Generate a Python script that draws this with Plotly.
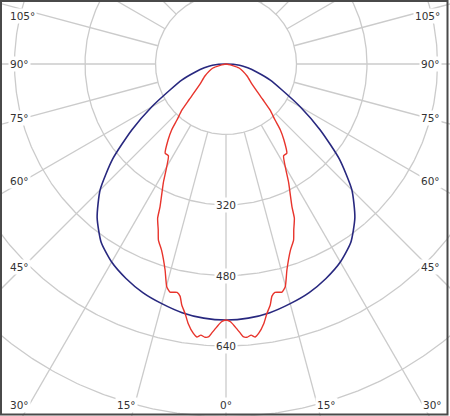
import numpy as np
import plotly.graph_objects as go

# ---- data (luminous intensity, cd/klm; angle measured from nadir, degrees) ----
blue_angle = [0, 5, 10, 15, 20, 25, 30, 35, 40, 45, 50, 55, 60, 65, 70, 75, 80, 85, 90]
blue_cd = [581, 579, 573, 563, 552, 537, 519, 494, 455, 404, 336, 261, 195, 141, 107, 73, 50, 31, 0]

red_angle = [0, 1, 2, 3, 3.6, 4.4, 5.3, 6.1, 6.9, 8.3, 9.3, 10.4, 11.2, 12.1, 13.8, 14.9,
             16.5, 19.1, 21, 22.2, 23.9, 24.8, 27.8, 32.1, 34.3, 37.3, 39.5, 41.2, 43.7,
             46, 52.4, 60.3, 73, 90]
red_cd = [581, 585, 597, 611, 620, 622, 618, 623, 616, 595, 574, 556, 537, 530, 533, 523,
          487, 447, 428, 407, 383, 357, 305, 246, 245, 217, 194, 169, 145,
          116, 74, 55, 31, 0]

ring_values = [160, 320, 480, 640, 800, 960]
ring_labels = [320, 480, 640]
spoke_angles = list(range(0, 360, 15))
side_angle_labels = ["105°", "90°", "75°", "60°", "45°"]
bottom_angle_labels = ["30°", "15°", "0°", "15°", "30°"]

# ---- layout constants (pixels) ----
W, H = 450, 416
CX, CY = 226, 64          # pole position in pixels
PX_PER_CD = 70.5 / 160    # ring spacing

GRID = "#cbcbcb"
TXT = "#333333"
FONT = "DejaVu Sans"


def polar_to_xy(angles, values, side):
    a = np.radians(np.asarray(angles, dtype=float))
    r = np.asarray(values, dtype=float)
    return side * r * np.sin(a), -r * np.cos(a)


def mirrored(angles, values):
    xl, yl = polar_to_xy(angles, values, -1)
    xr, yr = polar_to_xy(angles, values, 1)
    return np.concatenate([xl[::-1], xr[1:]]), np.concatenate([yl[::-1], yr[1:]])


fig = go.Figure()

# rings
t = np.linspace(0, 2 * np.pi, 721)
for rv in ring_values:
    fig.add_trace(go.Scatter(x=rv * np.cos(t), y=rv * np.sin(t), mode="lines",
                             line=dict(color=GRID, width=1.3), hoverinfo="skip",
                             showlegend=False))
# spokes (from first ring outward)
for a in spoke_angles:
    ar = np.radians(a)
    r0, r1 = ring_values[0], 1400
    fig.add_trace(go.Scatter(x=[r0 * np.sin(ar), r1 * np.sin(ar)],
                             y=[-r0 * np.cos(ar), -r1 * np.cos(ar)], mode="lines",
                             line=dict(color=GRID, width=1.3), hoverinfo="skip",
                             showlegend=False))

# curves
bx, by = mirrored(blue_angle, blue_cd)
fig.add_trace(go.Scatter(x=bx, y=by, mode="lines",
                         line=dict(color="#28287f", width=1.6, shape="spline", smoothing=0.6),
                         showlegend=False))
rx, ry = mirrored(red_angle, red_cd)
fig.add_trace(go.Scatter(x=rx, y=ry, mode="lines",
                         line=dict(color="#e8342c", width=1.4, shape="spline", smoothing=0.5),
                         showlegend=False))

annotations = []
for v in ring_labels:
    annotations.append(dict(x=0, y=-v, xref="x", yref="y", text=str(v), showarrow=False,
                            bgcolor="white", borderpad=1,
                            font=dict(family=FONT, size=10.5, color=TXT)))

side_y = [16, 63.5, 118.5, 181.5, 266.5]
for lab, py in zip(side_angle_labels, side_y):
    annotations.append(dict(x=8 / W, y=1 - py / H, xref="paper", yref="paper", text=lab,
                            showarrow=False, xanchor="left", yanchor="middle",
                            bgcolor="white", borderpad=1,
                            font=dict(family=FONT, size=10.5, color=TXT)))
    annotations.append(dict(x=442 / W, y=1 - py / H, xref="paper", yref="paper", text=lab,
                            showarrow=False, xanchor="right", yanchor="middle",
                            bgcolor="white", borderpad=1,
                            font=dict(family=FONT, size=10.5, color=TXT)))
bottom_x = [19, 126, 226, 326, 432.5]
for lab, px in zip(bottom_angle_labels, bottom_x):
    annotations.append(dict(x=px / W, y=1 - 404.5 / H, xref="paper", yref="paper", text=lab,
                            showarrow=False, xanchor="center", yanchor="middle",
                            bgcolor="white", borderpad=1,
                            font=dict(family=FONT, size=10.5, color=TXT)))

fig.update_layout(
    width=W, height=H,
    margin=dict(l=0, r=0, t=0, b=0, autoexpand=False),
    paper_bgcolor="white", plot_bgcolor="white",
    xaxis=dict(range=[-CX / PX_PER_CD, (W - CX) / PX_PER_CD], visible=False,
               showgrid=False, zeroline=False, fixedrange=True),
    yaxis=dict(range=[-(H - CY) / PX_PER_CD, CY / PX_PER_CD], visible=False,
               showgrid=False, zeroline=False, fixedrange=True),
    annotations=annotations,
    shapes=[dict(type="rect", xref="paper", yref="paper",
                 x0=1 / W, x1=447.5 / W, y0=1 - 414.5 / H, y1=1 - 1 / H,
                 line=dict(color="#4a4a4a", width=2), layer="above")],
    showlegend=False,
)

fig.write_html(
    "out.html",
    config=dict(displayModeBar=False),
    post_script="document.body.style.margin='0';document.body.style.padding='0';"
                "document.body.style.overflow='hidden';",
)
